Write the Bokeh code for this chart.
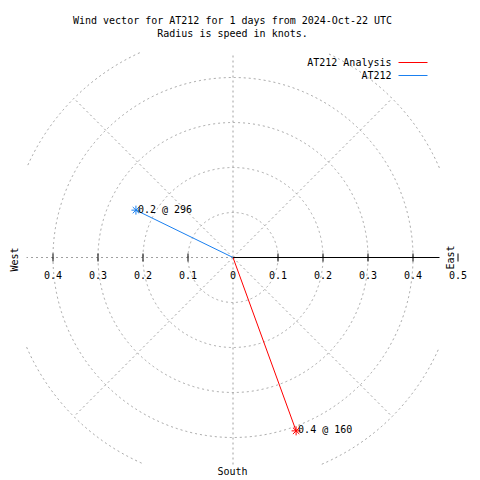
import numpy as np
from bokeh.plotting import figure
from bokeh.models import Range1d, Label
from bokeh.embed import file_html
from bokeh.resources import INLINE

# ---------------- data ----------------
series_names = ["AT212 Analysis", "AT212"]
speeds = [0.41, 0.24]            # knots
directions = [160, 296]          # compass degrees
point_labels = ["0.4 @ 160", "0.2 @ 296"]
ring_radii = [0.1, 0.2, 0.3, 0.4, 0.5]
spoke_angles = [45, 90, 135, 180, 225, 270, 315]
tick_values = [-0.4, -0.3, -0.2, -0.1, 0.0, 0.1, 0.2, 0.3, 0.4, 0.5]
tick_labels = ["0.4", "0.3", "0.2", "0.1", "0", "0.1", "0.2", "0.3", "0.4", "0.5"]
title_lines = ["Wind vector for AT212 for 1 days from 2024-Oct-22 UTC",
               "Radius is speed in knots."]

# ---------------- styling / layout ----------------
colors = ["#ff0000", "#1a80f0"]
FONT = "DejaVu Sans Mono"
FS = "10px"
GRID = "#a0a0a0"
CX, CY, S = 232.5, 257.0, 450.0   # centre (px) and px per knot


def dx(px):
    return (px - CX) / S


def dy(py):
    return (CY - py) / S


XL, XR, YT, YB = dx(26), dx(439), dy(52), dy(464)   # clip box of the polar area

p = figure(width=480, height=480, output_backend="svg", toolbar_location=None,
           x_range=Range1d(dx(0), dx(480)), y_range=Range1d(dy(480), dy(0)),
           x_axis_location=None, y_axis_location=None, min_border=0)
p.grid.visible = False
p.outline_line_color = None
p.background_fill_color = "white"
p.border_fill_color = "white"

# rings, clipped to box
xs_all, ys_all = [], []
th = np.radians(np.arange(0, 360.01, 0.25))
for r in ring_radii:
    x = r * np.cos(th)
    y = r * np.sin(th)
    inside = (x >= XL) & (x <= XR) & (y <= YT) & (y >= YB)
    if inside.all():
        xs_all.append(list(x)); ys_all.append(list(y))
        continue
    idx = np.where(inside)[0]
    runs = np.split(idx, np.where(np.diff(idx) != 1)[0] + 1)
    for run in runs:
        if len(run) > 1:
            xs_all.append(list(x[run])); ys_all.append(list(y[run]))
p.multi_line(xs=xs_all, ys=ys_all, line_color=GRID, line_dash="2 3", line_width=1)

# spokes
sx, sy = [], []
for a in spoke_angles:
    c, s = np.cos(np.radians(a)), np.sin(np.radians(a))
    t = max(ring_radii)
    if abs(c) > 1e-9:
        t = min(t, (XR if c > 0 else -XL) / abs(c))
    if abs(s) > 1e-9:
        t = min(t, (YT if s > 0 else -YB) / abs(s))
    sx.append([0, t * c]); sy.append([0, t * s])
p.multi_line(xs=sx, ys=sy, line_color=GRID, line_dash="2 3", line_width=1)

# east axis line + ticks
p.segment(x0=[0], y0=[0], x1=[XR], y1=[0], line_color="black", line_width=1)
tk = [v for v in tick_values if v != 0]
p.segment(x0=tk, y0=[dy(261)] * len(tk), x1=tk, y1=[dy(253)] * len(tk),
          line_color="black", line_width=1)

# tick labels
p.text(x=tick_values, y=[dy(274)] * len(tick_values), text=tick_labels,
       text_font={"value": FONT}, text_font_size=FS, text_align="center",
       text_baseline="middle", text_color="black")

# vectors
u = [sp * np.sin(np.radians(d)) for sp, d in zip(speeds, directions)]
v = [sp * np.cos(np.radians(d)) for sp, d in zip(speeds, directions)]
for i in range(len(speeds)):
    p.segment(x0=[0], y0=[0], x1=[u[i]], y1=[v[i]], line_color=colors[i], line_width=1)
    p.scatter(x=[u[i]], y=[v[i]], marker="asterisk", size=9, line_color=colors[i],
              line_width=1)
    p.text(x=[u[i]], y=[v[i]], text=[point_labels[i]], x_offset=2, y_offset=-1,
           text_font={"value": FONT}, text_font_size=FS, text_align="left",
           text_baseline="middle", text_color="black")

# legend (text left, line sample right)
for i, name in enumerate(series_names):
    ly = 62 + 13 * i
    p.add_layout(Label(x=dx(391), y=dy(ly), text=name, text_font=FONT,
                       text_font_size=FS, text_align="right",
                       text_baseline="middle", text_color="black"))
    p.segment(x0=[dx(398)], y0=[dy(ly)], x1=[dx(427)], y1=[dy(ly)],
              line_color=colors[i], line_width=1)

# titles
for i, t in enumerate(title_lines):
    p.add_layout(Label(x=dx(232), y=dy(20 + 13 * i), text=t, text_font=FONT,
                       text_font_size=FS, text_align="center",
                       text_baseline="middle", text_color="black"))

# compass labels
p.add_layout(Label(x=dx(14), y=dy(259), text="West", angle=np.pi / 2,
                   text_font=FONT, text_font_size=FS, text_align="center",
                   text_baseline="middle", text_color="black"))
p.add_layout(Label(x=dx(450), y=dy(257), text="East", angle=np.pi / 2,
                   text_font=FONT, text_font_size=FS, text_align="center",
                   text_baseline="middle", text_color="black"))
p.add_layout(Label(x=dx(232), y=dy(471), text="South",
                   text_font=FONT, text_font_size=FS, text_align="center",
                   text_baseline="middle", text_color="black"))

open("out.html", "w").write(file_html(p, INLINE))
